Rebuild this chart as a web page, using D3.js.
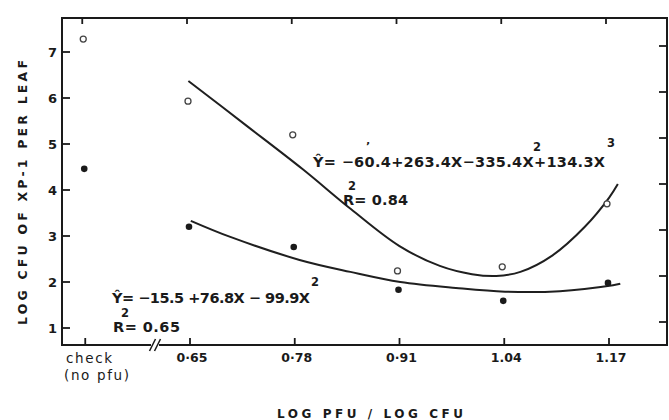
<!DOCTYPE html>
<html>
<head>
<meta charset="utf-8">
<script src="https://cdn.jsdelivr.net/npm/d3@7"></script>
<style>
  body { margin: 0; background: #fff; }
  svg { display: block; }
  text { font-family: "DejaVu Sans", sans-serif; fill: #1a1a1a; }
</style>
</head>
<body>
<svg id="chart" width="669" height="420"></svg>
<script>
// values
var checkX = 0.52;   // where the "check (no pfu)" column sits on the x axis
var xValues = [0.65, 0.78, 0.91, 1.04, 1.17];
var xTickLabels = ["0·65", "0·78", "0·91", "1.04", "1.17"];
var yTicks = [1, 2, 3, 4, 5, 6, 7];

// first value is the check
var openY = [7.28, 5.93, 5.20, 2.24, 2.33, 3.70];
var filledY = [4.46, 3.20, 2.76, 1.83, 1.59, 1.98];

// fitted curves
var upperFitX = [0.648, 0.72, 0.79, 0.85, 0.91, 0.96, 1.00, 1.03, 1.06, 1.10, 1.14, 1.17, 1.181];
var upperFitY = [6.37, 5.40, 4.45, 3.58, 2.78, 2.35, 2.17, 2.13, 2.22, 2.58, 3.20, 3.83, 4.13];
var lowerFitX = [0.651, 0.700, 0.786, 0.849, 0.911, 0.980, 1.041, 1.109, 1.175, 1.184];
var lowerFitY = [3.33, 2.98, 2.48, 2.22, 2.00, 1.87, 1.79, 1.80, 1.93, 1.96];

var frame = {left: 62, right: 667, top: 18, bottom: 345};

var svg = d3.select("#chart");

var x = d3.scaleLinear().domain([0.65, 1.17]).range([190, 609]);
var y = d3.scaleLinear().domain([1, 7]).range([328, 52]);

var allX = [checkX].concat(xValues);

// frame
svg.append("rect")
    .attr("x", frame.left).attr("y", frame.top)
    .attr("width", frame.right - frame.left).attr("height", frame.bottom - frame.top)
    .attr("fill", "none").attr("stroke", "#1a1a1a").attr("stroke-width", 2);

// ticks, all pointing inward
var tickColor = "#1a1a1a";
allX.forEach(function(v) {
    svg.append("line").attr("x1", x(v)).attr("x2", x(v)).attr("y1", frame.bottom).attr("y2", frame.bottom - 7)
        .attr("stroke", tickColor).attr("stroke-width", 1.8);
    svg.append("line").attr("x1", x(v) - 3).attr("x2", x(v) - 3).attr("y1", frame.top).attr("y2", frame.top + 6)
        .attr("stroke", tickColor).attr("stroke-width", 1.8);
});
yTicks.forEach(function(v) {
    svg.append("line").attr("x1", frame.left).attr("x2", frame.left + 8).attr("y1", y(v)).attr("y2", y(v))
        .attr("stroke", tickColor).attr("stroke-width", 1.8);
    svg.append("line").attr("x1", frame.right).attr("x2", frame.right - 8).attr("y1", y(v) - 6).attr("y2", y(v) - 6)
        .attr("stroke", tickColor).attr("stroke-width", 1.8);
});

// axis break
var bx = 155;
svg.append("rect").attr("x", bx - 4).attr("y", frame.bottom - 2).attr("width", 8).attr("height", 4).attr("fill", "#fff");
[-2.5, 2.5].forEach(function(dx) {
    svg.append("line")
        .attr("x1", bx + dx - 3).attr("y1", frame.bottom + 6)
        .attr("x2", bx + dx + 3).attr("y2", frame.bottom - 6)
        .attr("stroke", tickColor).attr("stroke-width", 1.6);
});

// tick labels
svg.selectAll(".ylab").data(yTicks).enter().append("text")
    .attr("class", "ylab")
    .attr("x", 57).attr("y", function(d) { return y(d) + 5; })
    .attr("text-anchor", "end")
    .attr("font-size", 13).attr("font-weight", "bold")
    .text(function(d) { return d; });

svg.selectAll(".xlab").data(xValues).enter().append("text")
    .attr("class", "xlab")
    .attr("x", function(d) { return x(d) + 2; }).attr("y", 362)
    .attr("text-anchor", "middle")
    .attr("font-size", 12.5).attr("font-weight", "bold")
    .text(function(d, i) { return xTickLabels[i]; });

svg.append("text").attr("x", 66).attr("y", 363).attr("font-size", 13.5)
    .attr("textLength", 46).text("check");
svg.append("text").attr("x", 64).attr("y", 380).attr("font-size", 13.5)
    .attr("textLength", 65).text("(no pfu)");

// axis titles
svg.append("text")
    .attr("x", 277).attr("y", 418)
    .attr("font-size", 12).attr("font-weight", "bold")
    .attr("textLength", 186).attr("lengthAdjust", "spacing")
    .text("LOG PFU / LOG CFU");

svg.append("text")
    .attr("transform", "translate(27,325) rotate(-90)")
    .attr("font-size", 12.5).attr("font-weight", "bold")
    .attr("textLength", 265).attr("lengthAdjust", "spacing")
    .text("LOG CFU OF XP-1 PER LEAF");

// fitted curves
var line = d3.line()
    .x(function(d) { return x(d[0]); })
    .y(function(d) { return y(d[1]); })
    .curve(d3.curveCatmullRom.alpha(0.5));

svg.append("path")
    .datum(d3.zip(upperFitX, upperFitY))
    .attr("d", line)
    .attr("fill", "none").attr("stroke", "#1f1f1f").attr("stroke-width", 2);

svg.append("path")
    .datum(d3.zip(lowerFitX, lowerFitY))
    .attr("d", line)
    .attr("fill", "none").attr("stroke", "#1f1f1f").attr("stroke-width", 2);

// points
svg.selectAll(".open").data(openY).enter().append("circle")
    .attr("class", "open")
    .attr("cx", function(d, i) { return x(allX[i]) - 2; })
    .attr("cy", function(d) { return y(d); })
    .attr("r", 3)
    .attr("fill", "#fff").attr("stroke", "#444").attr("stroke-width", 1.3);

svg.selectAll(".filled").data(filledY).enter().append("circle")
    .attr("class", "filled")
    .attr("cx", function(d, i) { return x(allX[i]) - 1; })
    .attr("cy", function(d) { return y(d); })
    .attr("r", 3.3)
    .attr("fill", "#1a1a1a");

// equations
function eq(txt, xx, yy, len, size) {
    svg.append("text").attr("x", xx).attr("y", yy)
        .attr("font-size", size).attr("font-weight", "bold")
        .attr("textLength", len).attr("lengthAdjust", "spacing")
        .text(txt);
}
function small(txt, xx, yy, size) {
    svg.append("text").attr("x", xx).attr("y", yy)
        .attr("font-size", size).attr("font-weight", "bold")
        .text(txt);
}

// cubic fit (open circles)
eq("\u0176= \u221260.4+263.4X\u2212335.4X+134.3X", 313, 167, 292, 14.5);
small("2", 533, 151, 11.5);
small("3", 607, 147, 11.5);
small("\u2019", 366, 150, 11);
eq("R= 0.84", 343, 205, 65, 14.5);
small("2", 348, 190, 11.5);

// quadratic fit (filled circles)
eq("\u0176= \u221215.5 +76.8X \u2212 99.9X", 112, 303, 198, 14.5);
small("2", 311, 286, 11.5);
eq("R= 0.65", 113, 332, 67, 14.5);
small("2", 121, 317, 11.5);
</script>
</body>
</html>
